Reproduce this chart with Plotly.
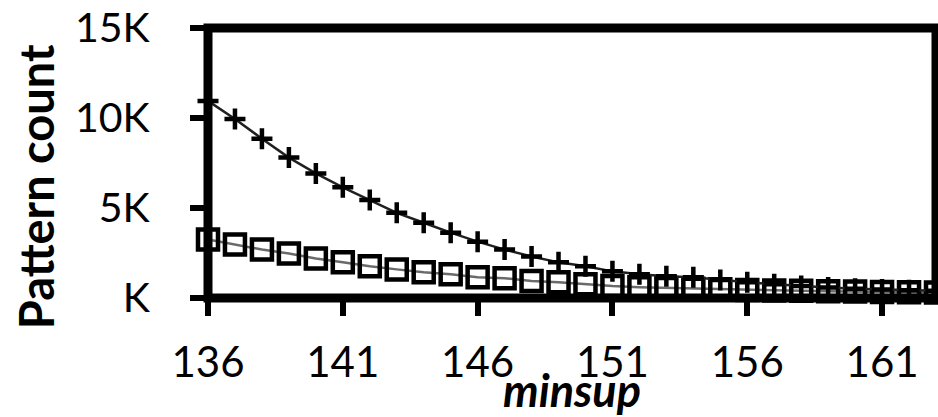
import plotly.graph_objects as go

minsup = [136, 137, 138, 139, 140, 141, 142, 143, 144, 145, 146, 147, 148, 149,
          150, 151, 152, 153, 154, 155, 156, 157, 158, 159, 160, 161, 162, 163]
plus_counts = [10950, 9950, 8850, 7800, 6920, 6150, 5440, 4730, 4180, 3630, 3130,
               2690, 2310, 1980, 1760, 1480, 1320, 1210, 1150, 1000, 880, 760, 660,
               580, 520, 470, 430, 400]
square_counts = [3250, 2970, 2690, 2470, 2200, 1980, 1760, 1590, 1430, 1320, 1150,
                 1100, 940, 880, 770, 660, 600, 560, 520, 480, 450, 420, 400, 380,
                 360, 340, 320, 300]
x_ticks = [136, 141, 146, 151, 156, 161]
y_ticks = [0, 5000, 10000, 15000]
y_ticktext = ["K", "5K", "10K", "15K"]

W, H = 938, 417
L, R, T, B = 208, 2, 25, 119
pw, ph = W - L - R, H - T - B

fig = go.Figure()
fig.add_trace(go.Scatter(
    x=minsup, y=square_counts, mode="lines+markers", cliponaxis=False,
    line=dict(color="#6a6a6a", width=2.5),
    marker=dict(symbol="square-open", size=20, color="black",
                line=dict(color="black", width=4.5)),
    showlegend=False))
fig.add_trace(go.Scatter(
    x=minsup, y=plus_counts, mode="lines+markers", cliponaxis=False,
    line=dict(color="#202020", width=2.5),
    marker=dict(symbol="cross-thin", size=15, color="black",
                line=dict(color="black", width=4.5)),
    showlegend=False))

fig.add_shape(type="rect", xref="paper", yref="paper", x0=0, x1=1, y0=0, y1=1,
              line=dict(color="black", width=9), layer="above")

fig.update_xaxes(range=[136, 163], tickvals=x_ticks, ticks="outside", ticklen=17,
                 tickwidth=6, tickcolor="black", showgrid=False, zeroline=False,
                 showline=False, ticklabelstandoff=11, ticklabeloverflow="allow",
                 tickfont=dict(family="Lato", size=42, color="black"))
fig.update_yaxes(range=[0, 15000], tickvals=y_ticks, ticktext=y_ticktext,
                 ticks="outside", ticklen=17, tickwidth=6, tickcolor="black",
                 showgrid=False, zeroline=False, showline=False, ticklabelstandoff=32,
                 ticklabeloverflow="allow",
                 tickfont=dict(family="Lato", size=41, color="black"))

fig.add_annotation(text="<b>Pattern count</b>", textangle=-90, showarrow=False,
                   xref="paper", yref="paper",
                   x=(36 - L) / pw, y=(H - B - 186) / ph,
                   xanchor="center", yanchor="middle",
                   font=dict(family="Lato", size=47, color="black"))
fig.add_annotation(text="<b><i>minsup</i></b>", showarrow=False,
                   xref="paper", yref="paper",
                   x=(572 - L) / pw, y=(H - B - 391) / ph,
                   xanchor="center", yanchor="middle",
                   font=dict(family="Lato", size=45, color="black"))

fig.update_layout(width=W, height=H, margin=dict(l=L, r=R, t=T, b=B, pad=0),
                  paper_bgcolor="white", plot_bgcolor="white")
fig.write_html("out.html", config={"displayModeBar": False},
               post_script="document.body.style.margin='0px';"
                           "document.body.style.overflow='hidden';")
